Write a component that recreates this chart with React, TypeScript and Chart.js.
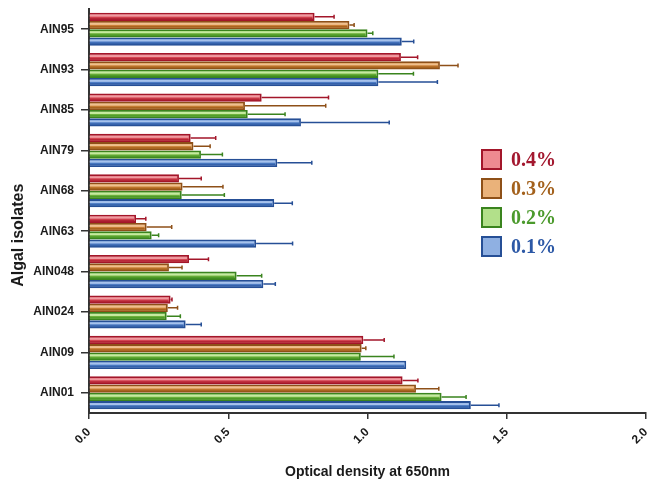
import React, { useEffect, useRef } from "react";
import { Chart, registerables } from "chart.js";

Chart.register(...registerables);

// ---------- data ----------
const categories = ["AIN95", "AIN93", "AIN85", "AIN79", "AIN68", "AIN63", "AIN048", "AIN024", "AIN09", "AIN01"];
const seriesLabels = ["0.4%", "0.3%", "0.2%", "0.1%"];

const values04 = [0.81, 1.12, 0.62, 0.365, 0.323, 0.169, 0.359, 0.293, 0.985, 1.126];
const errors04 = [0.07, 0.06, 0.24, 0.09, 0.08, 0.035, 0.07, 0.005, 0.075, 0.055];

const values03 = [0.935, 1.26, 0.56, 0.375, 0.336, 0.207, 0.287, 0.283, 0.979, 1.174];
const errors03 = [0.017, 0.065, 0.29, 0.06, 0.145, 0.09, 0.047, 0.035, 0.015, 0.082];

const values02 = [1.0, 1.039, 0.57, 0.402, 0.333, 0.225, 0.53, 0.279, 0.976, 1.266];
const errors02 = [0.019, 0.126, 0.134, 0.077, 0.153, 0.025, 0.09, 0.049, 0.119, 0.088];

const values01 = [1.123, 1.039, 0.761, 0.676, 0.665, 0.6, 0.626, 0.347, 1.139, 1.371];
const errors01 = [0.043, 0.212, 0.317, 0.124, 0.065, 0.131, 0.043, 0.056, 0.0, 0.101];

const xTicks = [0, 0.5, 1.0, 1.5, 2.0];

const xTitle = "Optical density at 650nm";
const yTitle = "Algal isolates";

// ---------- styles ----------
const palette = [
  { fill: "#d44552", border: "#a3162a", light: "#f09aa0", dark: "#b52636", text: "#a3182f", legendFill: "#ee8a90" },
  { fill: "#c97f35", border: "#8e5018", light: "#f0c08e", dark: "#a8641f", text: "#a3611c", legendFill: "#eab27a" },
  { fill: "#6db23c", border: "#3a841e", light: "#c6eaa0", dark: "#4e9a28", text: "#4b9a2c", legendFill: "#b2e08a" },
  { fill: "#4d7cc4", border: "#264f96", light: "#a6c2ec", dark: "#3562ab", text: "#2c58a6", legendFill: "#8fb0e2" },
];

const allValues = [values04, values03, values02, values01];
const allErrors = [errors04, errors03, errors02, errors01];

const FONT = "Arial, 'Liberation Sans', sans-serif";

const decorPlugin = {
  id: "decor",
  afterDatasetsDraw(chart: any) {
    const ctx = chart.ctx;
    const xs = chart.scales.x;
    chart.data.datasets.forEach((ds: any, di: number) => {
      const meta = chart.getDatasetMeta(di);
      const pal = palette[di];
      meta.data.forEach((el: any, i: number) => {
        const h = el.height;
        const top = el.y - h / 2;
        const left = Math.min(el.base, el.x);
        const len = Math.abs(el.x - el.base);
        ctx.save();
        ctx.fillStyle = pal.light;
        ctx.fillRect(left, top + 2, Math.max(0, len - 2), h * 0.24);
        ctx.fillStyle = pal.dark;
        ctx.fillRect(left, el.y + h * 0.12, Math.max(0, len - 2), h * 0.2);
        ctx.restore();
        const err = ds.errors[i];
        if (err > 0) {
          const xEnd = xs.getPixelForValue(ds.data[i] + err);
          ctx.save();
          ctx.strokeStyle = pal.border;
          ctx.lineWidth = 1.5;
          ctx.beginPath();
          ctx.moveTo(el.x, el.y);
          ctx.lineTo(xEnd, el.y);
          ctx.moveTo(xEnd, el.y - 2);
          ctx.lineTo(xEnd, el.y + 2);
          ctx.stroke();
          ctx.restore();
        }
      });
    });
  },
  afterDraw(chart: any) {
    const ctx = chart.ctx;
    const area = chart.chartArea;
    const lx = area.left + 393;
    const ly = area.top + 141;
    chart.data.datasets.forEach((ds: any, di: number) => {
      const pal = palette[di];
      const y = ly + di * 29;
      ctx.save();
      ctx.fillStyle = pal.legendFill;
      ctx.strokeStyle = pal.border;
      ctx.lineWidth = 2;
      ctx.fillRect(lx, y, 19, 19);
      ctx.strokeRect(lx, y, 19, 19);
      ctx.fillStyle = pal.text;
      ctx.font = "bold 20px 'Liberation Serif', 'DejaVu Serif', serif";
      ctx.textBaseline = "middle";
      ctx.textAlign = "left";
      ctx.fillText(ds.label, lx + 29, y + 10.5);
      ctx.restore();
    });
    ctx.save();
    ctx.translate(19, area.top + (area.bottom - area.top) * 0.56);
    ctx.rotate(-Math.PI / 2);
    ctx.font = `bold 16px ${FONT}`;
    ctx.fillStyle = "#1a1a1a";
    ctx.textAlign = "center";
    ctx.textBaseline = "middle";
    ctx.fillText(yTitle, 0, 0);
    ctx.restore();
  },
};

export default function App() {
  const ref = useRef<HTMLCanvasElement | null>(null);

  useEffect(() => {
    if (!ref.current) return;
    const chart = new Chart(ref.current, {
      type: "bar",
      data: {
        labels: categories,
        datasets: seriesLabels.map((label, di) => ({
          label,
          data: allValues[di],
          errors: allErrors[di],
          backgroundColor: palette[di].fill,
          borderColor: palette[di].border,
          borderWidth: 1.8,
          borderSkipped: "start",
          categoryPercentage: 0.82,
          barPercentage: 1.0,
        })) as any,
      },
      options: {
        indexAxis: "y",
        animation: false,
        responsive: false,
        maintainAspectRatio: false,
        layout: { padding: { top: 9, right: 13, left: 0, bottom: 0 } },
        plugins: {
          legend: { display: false },
          tooltip: { enabled: false },
        },
        scales: {
          x: {
            min: 0,
            max: 2,
            afterBuildTicks: (scale: any) => {
              scale.ticks = xTicks.map((v) => ({ value: v }));
            },
            ticks: {
              callback: (v: any) => Number(v).toFixed(1),
              font: { family: FONT, weight: "bold", size: 12 },
              color: "#1a1a1a",
              minRotation: 45,
              maxRotation: 45,
              padding: 6,
            },
            grid: { drawOnChartArea: false, drawTicks: true, tickLength: 6, color: "#333", lineWidth: 1.5 },
            border: { display: true, color: "#333", width: 2 },
            title: {
              display: true,
              text: xTitle,
              font: { family: FONT, weight: "bold", size: 14 },
              color: "#1a1a1a",
              padding: { top: 4, bottom: 0 },
            },
            afterFit: (scale: any) => {
              scale.height = 68;
              scale.paddingLeft = 0;
              scale.paddingRight = 0;
            },
          },
          y: {
            ticks: {
              font: { family: FONT, weight: "bold", size: 12 },
              color: "#1a1a1a",
              padding: 7,
            },
            grid: { drawOnChartArea: false, drawTicks: true, offset: false, tickLength: 8, color: "#333", lineWidth: 1.5 },
            border: { display: true, color: "#333", width: 2 },
            afterFit: (scale: any) => {
              scale.width = 89;
              scale.paddingTop = 0;
              scale.paddingBottom = 0;
            },
          },
        },
      },
      plugins: [decorPlugin],
    } as any);
    return () => chart.destroy();
  }, []);

  return (
    <div style={{ position: "absolute", left: 0, top: 0, width: 659, height: 481, background: "#fff" }}>
      <canvas ref={ref} width={659} height={481} style={{ width: 659, height: 481 }} />
    </div>
  );
}
